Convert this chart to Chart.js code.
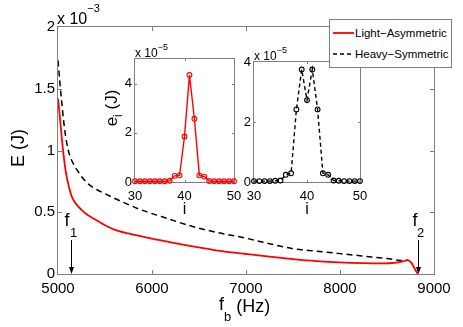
<!DOCTYPE html>
<html>
<head>
<meta charset="utf-8">
<script src="https://cdn.jsdelivr.net/npm/chart.js@4.4.1/dist/chart.umd.min.js"></script>
<style>
  html, body { margin: 0; padding: 0; background: #fff; }
  #wrap { position: relative; width: 463px; height: 327px; overflow: hidden; font-family: "Liberation Sans", Arial, sans-serif; }
  #wrap canvas { position: absolute; left: 0; top: 0; }
  #legend { position: absolute; left: 329px; top: 19px; width: 121px; height: 47px; border: 1px solid #7f7f7f; background: #fff; font-size: 11.5px; color: #000; }
  #legend .row { position: absolute; left: 0; height: 14px; line-height: 14px; white-space: nowrap; }
  #legend svg { position: absolute; left: 3px; top: 5px; }
  #legend span { position: absolute; left: 25px; top: 0; }
</style>
</head>
<body>
<div id="wrap">
  <canvas id="mainChart" width="463" height="327"></canvas>
  <canvas id="insetLight" width="463" height="327"></canvas>
  <canvas id="insetHeavy" width="463" height="327"></canvas>
  <div id="legend">
    <div class="row" style="top:6px"><svg width="22" height="4"><line x1="0" y1="2" x2="21" y2="2" stroke="#ff0000" stroke-width="1.8"/></svg><span id="leg0"></span></div>
    <div class="row" style="top:27px"><svg width="22" height="4"><line x1="0" y1="2" x2="21" y2="2" stroke="#000" stroke-width="1.5" stroke-dasharray="4,3"/></svg><span id="leg1"></span></div>
  </div>
</div>
<script>
// ---- data (E in units of 1e-3 J, e_i in units of 1e-5 J) ----
const seriesNames = ['Light\u2212Asymmetric', 'Heavy\u2212Symmetric'];

const lightFreq = [5000, 5020, 5040, 5060, 5080, 5100, 5125, 5150, 5200, 5250, 5320, 5400, 5500, 5600, 5750, 5900, 6000, 6200, 6450, 6700, 7000, 7250, 7500, 7750, 8000, 8250, 8450, 8580, 8660, 8720, 8760, 8790, 8815, 8828];
const lightEnergy = [1.42, 1.27, 1.10, 0.96, 0.84, 0.76, 0.68, 0.62, 0.56, 0.52, 0.475, 0.44, 0.395, 0.36, 0.328, 0.302, 0.287, 0.256, 0.221, 0.19, 0.162, 0.14, 0.121, 0.105, 0.094, 0.088, 0.086, 0.09, 0.10, 0.112, 0.09, 0.05, 0.015, 0];

const heavyFreq = [5000, 5020, 5040, 5060, 5080, 5110, 5140, 5180, 5250, 5320, 5420, 5500, 5680, 5900, 6100, 6440, 6700, 7000, 7250, 7500, 7750, 8000, 8250, 8500, 8680, 8720];
const heavyEnergy = [1.73, 1.55, 1.39, 1.24, 1.12, 1.00, 0.93, 0.87, 0.79, 0.73, 0.68, 0.65, 0.585, 0.515, 0.465, 0.383, 0.335, 0.29, 0.245, 0.205, 0.185, 0.165, 0.145, 0.125, 0.108, 0.113];

const siteIndex = [30, 31, 32, 33, 34, 35, 36, 37, 38, 39, 40, 41, 42, 43, 44, 45, 46, 47, 48, 49, 50];
const lightSite = [0.03, 0.03, 0.03, 0.03, 0.03, 0.03, 0.03, 0.05, 0.25, 0.27, 1.85, 4.35, 2.57, 0.27, 0.22, 0.04, 0.03, 0.03, 0.03, 0.03, 0.03];
const heavySite = [0.03, 0.03, 0.03, 0.03, 0.04, 0.05, 0.24, 0.29, 2.42, 3.75, 2.73, 3.75, 2.42, 0.29, 0.24, 0.05, 0.04, 0.03, 0.03, 0.03, 0.03];

const mainXTicks = [5000, 6000, 7000, 8000, 9000];
const mainYTicks = [0, 0.5, 1, 1.5, 2];
const insetXTicks = [30, 40, 50];
const insetYTicks = [0, 2, 4];

// cut-off frequencies marked by arrows
const f1 = 5140;
const f2 = 8826;
const arrowTop = 0.275;

Chart.defaults.font.family = '"Liberation Sans", Arial, sans-serif';
Chart.defaults.color = '#000';

const AXIS_GREY = '#7f7f7f';

// draw text made of pieces with own size / vertical offset (sub/superscripts)
function richText(ctx, x, y, parts) {
    let cx = x;
    parts.forEach(p => {
        ctx.font = p.size + 'px "Liberation Sans", Arial, sans-serif';
        ctx.fillText(p.t, cx, y + (p.dy || 0));
        cx += ctx.measureText(p.t).width;
    });
}

function richWidth(ctx, parts) {
    let w = 0;
    parts.forEach(p => {
        ctx.font = p.size + 'px "Liberation Sans", Arial, sans-serif';
        w += ctx.measureText(p.t).width;
    });
    return w;
}

// matlab style box with inward ticks on all four sides
const axesBox = {
    id: 'axesBox',
    beforeDraw(chart, args, opts) {
        if (!opts.fill) return;
        const a = chart.chartArea;
        chart.ctx.save();
        chart.ctx.fillStyle = '#fff';
        chart.ctx.fillRect(a.left, a.top, a.right - a.left, a.bottom - a.top);
        chart.ctx.restore();
    },
    beforeDatasetsDraw(chart, args, opts) {
        const { ctx, chartArea: a, scales } = chart;
        const len = opts.tick || 4;
        ctx.save();
        ctx.strokeStyle = AXIS_GREY;
        ctx.lineWidth = 1;
        ctx.strokeRect(a.left - 0.5, a.top - 0.5, a.right - a.left + 1, a.bottom - a.top + 1);
        ctx.beginPath();
        scales.x.ticks.forEach(t => {
            const px = Math.round(scales.x.getPixelForValue(t.value)) + 0.5;
            if (px <= a.left + 1 || px >= a.right - 1) return;
            ctx.moveTo(px, a.bottom); ctx.lineTo(px, a.bottom - len);
            ctx.moveTo(px, a.top); ctx.lineTo(px, a.top + len);
        });
        scales.y.ticks.forEach(t => {
            const py = Math.round(scales.y.getPixelForValue(t.value)) + 0.5;
            if (py <= a.top + 1 || py >= a.bottom - 1) return;
            ctx.moveTo(a.left, py); ctx.lineTo(a.left + len, py);
            ctx.moveTo(a.right, py); ctx.lineTo(a.right - len, py);
        });
        ctx.stroke();
        ctx.restore();
    }
};

// labels, exponent and f1/f2 arrows of the big axes
const mainNotes = {
    id: 'mainNotes',
    afterDraw(chart) {
        const { ctx, scales: { x, y } } = chart;
        ctx.save();
        ctx.fillStyle = '#000';
        ctx.strokeStyle = '#000';
        ctx.textBaseline = 'alphabetic';
        ctx.textAlign = 'left';

        richText(ctx, 57, 24, [{ t: 'x 10', size: 16 }, { t: '\u22123', size: 11, dy: -12 }]);
        richText(ctx, 219, 312, [{ t: 'f', size: 18, dy: -2 }, { t: 'b', size: 13, dy: 9 }, { t: ' (Hz)', size: 18 }]);

        const yl = [{ t: 'E (J)', size: 18 }];
        ctx.translate(24, 148);
        ctx.rotate(-Math.PI / 2);
        richText(ctx, -richWidth(ctx, yl) / 2, 0, yl);
        ctx.setTransform(1, 0, 0, 1, 0, 0);

        [[f1, '1', -7], [f2, '2', -6]].forEach(([f, sub, off]) => {
            const px = Math.round(x.getPixelForValue(f)) + 0.5;
            const top = y.getPixelForValue(arrowTop);
            const bot = y.getPixelForValue(0);
            ctx.lineWidth = 1;
            ctx.beginPath();
            ctx.moveTo(px, top); ctx.lineTo(px, bot - 4);
            ctx.stroke();
            ctx.beginPath();
            ctx.moveTo(px, bot); ctx.lineTo(px - 2.5, bot - 7); ctx.lineTo(px + 2.5, bot - 7);
            ctx.closePath();
            ctx.fill();
            richText(ctx, px + off, top - 14, [{ t: 'f', size: 18 }]);
            richText(ctx, px - 1.5, top - 3, [{ t: sub, size: 13 }]);
        });
        ctx.restore();
    }
};

// labels and exponent of an inset
const insetNotes = {
    id: 'insetNotes',
    afterDraw(chart, args, opts) {
        const { ctx, chartArea: a } = chart;
        ctx.save();
        ctx.fillStyle = '#000';
        ctx.textAlign = 'left';
        richText(ctx, a.left, a.top - 2, [{ t: 'x 10', size: 12 }, { t: '\u22125', size: 9, dy: -7 }]);
        const xl = [{ t: 'i', size: 16 }];
        richText(ctx, (a.left + a.right) / 2 - richWidth(ctx, xl) / 2, a.bottom + 32, xl);
        if (opts.ylabel) {
            const yl = [{ t: 'e', size: 17 }, { t: 'i', size: 12, dy: 5 }, { t: ' (J)', size: 17 }];
            ctx.translate(a.left - 18, 108);
            ctx.rotate(-Math.PI / 2);
            richText(ctx, -richWidth(ctx, yl) / 2, 0, yl);
        }
        ctx.restore();
    }
};

function linearScale(min, max, tickList, size, pad, fontSize, isY, fixed) {
    return {
        type: 'linear', min: min, max: max,
        afterBuildTicks: s => { s.ticks = tickList.map(v => ({ value: v })); },
        afterFit: s => { if (isY) s.width = fixed; else s.height = fixed; },
        grid: { display: false, drawTicks: false },
        border: { display: false },
        ticks: { padding: pad, color: '#000', font: { size: fontSize }, autoSkip: false, maxRotation: 0, callback: v => String(v) }
    };
}

function placement(left, top, right, bottom, yw, xh) {
    return { left: left - yw, top: top, right: 463 - right, bottom: 327 - bottom - xh };
}

// main axes
new Chart(document.getElementById('mainChart'), {
    type: 'line',
    data: {
        datasets: [{
            label: seriesNames[0],
            data: lightFreq.map((f, k) => ({ x: f, y: lightEnergy[k] })),
            borderColor: '#ff0000',
            borderWidth: 1.8,
            pointRadius: 0,
            cubicInterpolationMode: 'monotone'
        }, {
            label: seriesNames[1],
            data: heavyFreq.map((f, k) => ({ x: f, y: heavyEnergy[k] })),
            borderColor: '#000',
            borderWidth: 1.5,
            borderDash: [6, 4],
            pointRadius: 0,
            cubicInterpolationMode: 'monotone'
        }]
    },
    options: {
        responsive: false,
        animation: false,
        layout: { padding: placement(58, 27, 434, 274, 58, 40) },
        plugins: { legend: { display: false }, tooltip: { enabled: false }, axesBox: { tick: 4 } },
        scales: {
            x: linearScale(5000, 9000, mainXTicks, 0, 6, 15, false, 40),
            y: linearScale(0, 2, mainYTicks, 0, 3, 15, true, 58)
        }
    },
    plugins: [axesBox, mainNotes]
});

function insetChart(id, values, color, dash, area, withYLabel) {
    return new Chart(document.getElementById(id), {
        type: 'line',
        data: {
            labels: siteIndex,
            datasets: [{
                data: siteIndex.map((v, k) => ({ x: v, y: values[k] })),
                borderColor: color,
                borderWidth: 1.4,
                borderDash: dash,
                pointRadius: 2.4,
                pointBorderWidth: 1.1,
                pointBorderColor: color,
                pointBackgroundColor: 'rgba(255,255,255,0)',
                tension: 0,
                clip: 6
            }]
        },
        options: {
            responsive: false,
            animation: false,
            layout: { padding: placement(area[0], area[1], area[2], area[3], 40, 30) },
            plugins: { legend: { display: false }, tooltip: { enabled: false }, axesBox: { fill: true, tick: 2 }, insetNotes: { ylabel: withYLabel } },
            scales: {
                x: linearScale(30, 50, insetXTicks, 0, 7, 13, false, 30),
                y: linearScale(area[4][0], area[4][1], insetYTicks, 0, 3, 13, true, 40)
            }
        },
        plugins: [axesBox, insetNotes]
    });
}

insetChart('insetLight', lightSite, '#ff0000', [], [135, 59, 234, 182, [0, 5]], true);
insetChart('insetHeavy', heavySite, '#000', [4, 3], [254, 62, 360, 182, [0, 4]], false);

document.getElementById('leg0').textContent = seriesNames[0];
document.getElementById('leg1').textContent = seriesNames[1];
</script>
</body>
</html>
